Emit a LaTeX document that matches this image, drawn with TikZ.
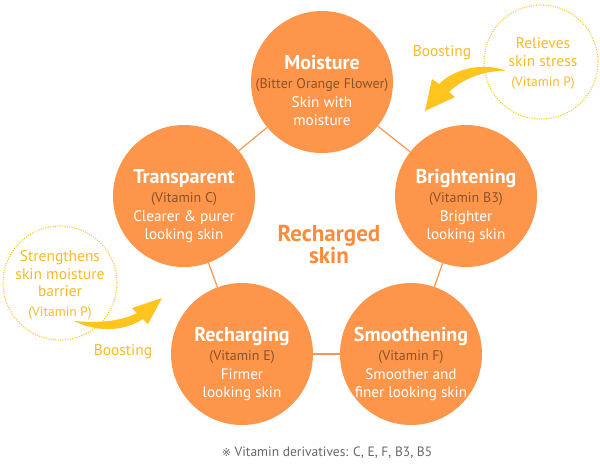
\documentclass[tikz,border=0pt]{standalone}
\usepackage{fontspec}
\setmainfont{PT Sans}
\newfontfamily\symfont{DejaVu Sans}
\usepackage{xcolor}
\definecolor{petal}{RGB}{253,150,75}
\definecolor{vitbrown}{RGB}{140,82,40}
\definecolor{boost}{RGB}{255,196,30}
\definecolor{boosttext}{RGB}{247,186,40}
\definecolor{hubtext}{RGB}{252,140,60}
\definecolor{notegray}{RGB}{105,105,105}

\tikzset{
  petal/.style={circle, fill=petal, minimum size=142pt, inner sep=0pt},
  link/.style={draw=petal, line width=1.2pt},
  ptitle/.style={text=white, anchor=base, font=\fontsize{20}{20}\selectfont\bfseries},
  psub/.style={text=vitbrown, anchor=base, font=\fontsize{14}{14}\selectfont},
  pdesc/.style={text=white, anchor=base, align=center, font=\fontsize{15.2}{18}\selectfont},
  helper/.style={circle, draw=boost, line width=1.1pt, dash pattern=on 1pt off 1.4pt, minimum size=114pt, inner sep=0pt},
  helpertxt/.style={text=boosttext, align=center, font=\fontsize{15.5}{17.5}\selectfont},
  helpersub/.style={text=boosttext, font=\fontsize{13.5}{13.5}\selectfont},
  boostlbl/.style={text=boosttext, font=\fontsize{15.5}{15.5}\selectfont},
}

\begin{document}
\begin{tikzpicture}[x=1pt,y=-1pt]
\useasboundingbox (0,0) rectangle (600,467);
\fill[white] (0,0) rectangle (600,467);
% Petals
\node[petal] (moist) at (322,82) {};
\node[petal] (bright) at (466,196) {};
\node[petal] (smooth) at (411,354) {};
\node[petal] (recharge) at (242,354) {};
\node[petal] (transp) at (184,196) {};
% Links round the ring
\draw[link] (moist) -- (bright);
\draw[link] (bright) -- (smooth);
\draw[link] (smooth) -- (recharge);
\draw[link] (recharge) -- (transp);
\draw[link] (transp) -- (moist);
% Petal 1: Moisture
\node[ptitle, yshift=13pt] (moist-t) at (moist) {Moisture};
\node[psub, yshift=-6pt] (moist-s) at (moist) {(Bitter Orange Flower)};
\node[pdesc, yshift=-43pt] (moist-d) at (moist) {Skin with\\moisture};
% Petal 2: Brightening
\node[ptitle, yshift=13pt] (bright-t) at (bright) {Brightening};
\node[psub, yshift=-6pt] (bright-s) at (bright) {(Vitamin B3)};
\node[pdesc, yshift=-43pt] (bright-d) at (bright) {Brighter\\looking skin};
% Petal 3: Smoothening
\node[ptitle, yshift=13pt] (smooth-t) at (smooth) {Smoothening};
\node[psub, yshift=-6pt] (smooth-s) at (smooth) {(Vitamin F)};
\node[pdesc, yshift=-43pt] (smooth-d) at (smooth) {Smoother and\\finer looking skin};
% Petal 4: Recharging
\node[ptitle, yshift=13pt] (recharge-t) at (recharge) {Recharging};
\node[psub, yshift=-6pt] (recharge-s) at (recharge) {(Vitamin E)};
\node[pdesc, yshift=-43pt] (recharge-d) at (recharge) {Firmer\\looking skin};
% Petal 5: Transparent
\node[ptitle, yshift=13pt] (transp-t) at (transp) {Transparent};
\node[psub, yshift=-6pt] (transp-s) at (transp) {(Vitamin C)};
\node[pdesc, yshift=-43pt] (transp-d) at (transp) {Clearer \& purer\\looking skin};
% Centre text
\node[text=hubtext, align=center, font=\fontsize{23}{22}\selectfont\bfseries] (hub) at (329,244) {Recharged\\skin};
% Helper: relieves skin stress
\node[helper] (relieve) at (541,62) {};
\node[helpertxt] (relieve-t) at (543,52) {Relieves\\skin stress};
\node[helpersub] (relieve-s) at (543,83) {(Vitamin P)};
\node[boostlbl] (boost-a) at (442,53) {Boosting};
\fill[boost] (506,71) .. controls (485,62) and (455,68) .. (439,84) -- (432,79) -- (425,111) -- (455,97) -- (449,92) .. controls (462,79) and (485,70) .. (506,71) -- cycle;
% Helper: strengthens barrier
\node[helper] (barrier) at (60,283) {};
\node[helpertxt] (barrier-t) at (60,274) {Strengthens\\skin moisture\\barrier};
\node[helpersub] (barrier-s) at (60,313) {(Vitamin P)};
\node[boostlbl] (boost-b) at (123,352) {Boosting};
\fill[boost] (74,321) .. controls (95,323) and (120,322) .. (137,313) -- (132,308) -- (162,298) -- (148,324) -- (143,319) .. controls (125,331) and (98,333) .. (74,321) -- cycle;
% Footnote
\node[text=notegray, font=\fontsize{13.5}{13.5}\selectfont] (foot) at (327,453) {{\symfont\fontsize{11}{11}\selectfont ※} Vitamin derivatives: C, E, F, B3, B5};
\end{tikzpicture}
\end{document}
